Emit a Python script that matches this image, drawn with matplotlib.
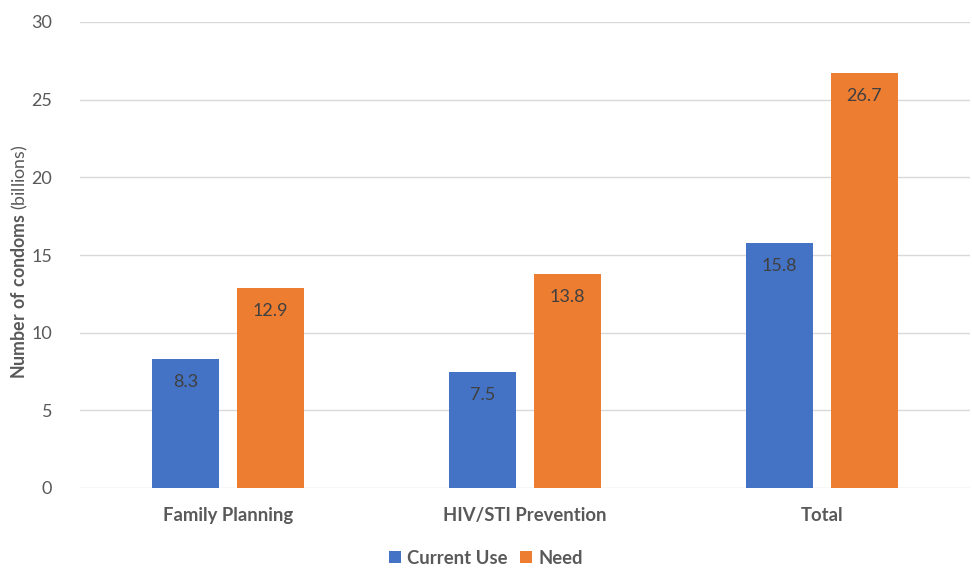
"""
Condom use vs need, grouped bar chart
"""

import numpy as np
import matplotlib
matplotlib.use('Agg')
from matplotlib import pyplot as plt

categories = ['Family Planning', 'HIV/STI Prevention', 'Total']
current_use = [8.3, 7.5, 15.8]
need = [12.9, 13.8, 26.7]
series_names = ['Current Use', 'Need']
yticks = [0, 5, 10, 15, 20, 25, 30]

plt.rcParams['font.family'] = ['Lato', 'DejaVu Sans']
plt.rcParams['mathtext.fontset'] = 'custom'
plt.rcParams['mathtext.rm'] = 'Lato'
plt.rcParams['mathtext.bf'] = 'Lato:bold'

blue = '#4472C4'
orange = '#ED7D31'
txt = '#595959'

fig = plt.figure(figsize=(9.72, 5.68), dpi=100)
ax = fig.add_axes([80 / 972, 1 - 488 / 568, 890 / 972, 466 / 568])

x = np.arange(len(categories))
w = 0.226
off = 0.143
b1 = ax.bar(x - off, current_use, w, color=blue, label=series_names[0], zorder=3)
b2 = ax.bar(x + off, need, w, color=orange, label=series_names[1], zorder=3)

for bars, vals in ((b1, current_use), (b2, need)):
    for rect, v in zip(bars, vals):
        ax.annotate(f'{v:.1f}', xy=(rect.get_x() + rect.get_width() / 2, v),
                    xytext=(0, -23), textcoords='offset pixels',
                    ha='center', va='center', fontsize=13, color='#404040',
                    zorder=4)

ax.set_xlim(-0.5, 2.5)
ax.set_ylim(0, 30)
ax.set_yticks(yticks)
ax.set_xticks(x)
ax.set_xticklabels(categories, fontweight='bold', fontsize=13.3, color=txt)
ax.tick_params(axis='y', length=0, pad=20, labelsize=13, labelcolor=txt)
ax.tick_params(axis='x', length=0, pad=14)
ax.grid(axis='y', color='#D9D9D9', lw=1, zorder=0)
ax.set_axisbelow(True)
for s in ax.spines.values():
    s.set_visible(False)

fig.text(20 / 972, 1 - 262 / 568, r'$\bf{Number\ of\ condoms}$ (billions)',
         rotation=90, ha='center', va='center', fontsize=12.8, color=txt)

leg = fig.legend(handles=[b1, b2], loc='center', bbox_to_anchor=(0.5, 1 - 558 / 568),
                 ncol=2, frameon=False, handlelength=0.65, handleheight=0.65,
                 handletextpad=0.3, columnspacing=0.7,
                 prop={'weight': 'bold', 'size': 13.3})
for t in leg.get_texts():
    t.set_color(txt)

fig.savefig('out.png', dpi=100)
